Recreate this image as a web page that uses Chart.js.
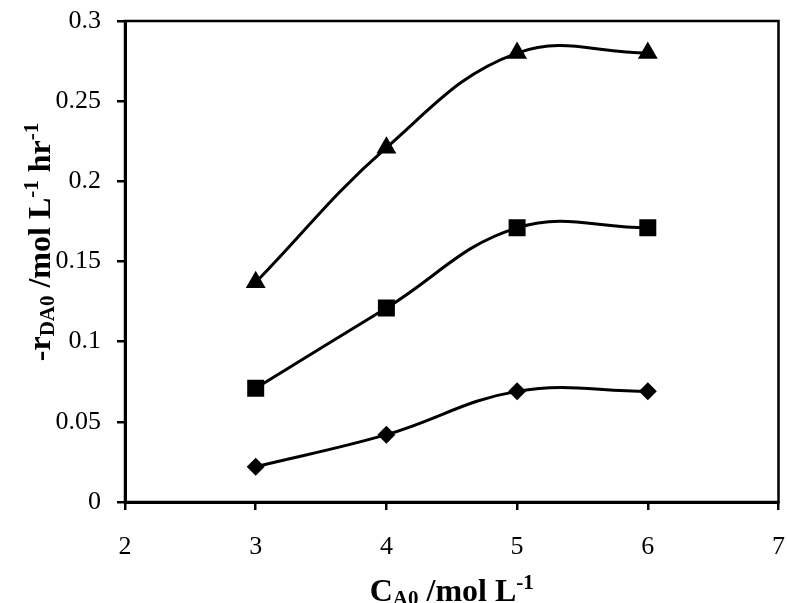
<!DOCTYPE html>
<html><head><meta charset="utf-8">
<script src="https://cdn.jsdelivr.net/npm/chart.js@4/dist/chart.umd.min.js"></script>
<style>html,body{margin:0;padding:0;background:#fff}#wrap{position:relative;width:787px;height:603px}</style>
</head><body><div id="wrap"><canvas id="c" width="787" height="603"></canvas></div>
<script>
const xValues = [3, 4, 5, 6];
const diamondSeries = [0.022, 0.042, 0.069, 0.069];
const squareSeries = [0.071, 0.121, 0.171, 0.171];
const triangleSeries = [0.137, 0.221, 0.28, 0.28];
const xTicks = [2, 3, 4, 5, 6, 7];
const yTicks = [0, 0.05, 0.1, 0.15, 0.2, 0.25, 0.3];
const xTitle = [{t:'C'}, {t:'A0', sub:true}, {t:' /mol L'}, {t:'-1', sup:true}];
const yTitle = [{t:'-r'}, {t:'DA0', sub:true}, {t:' /mol L'}, {t:'-1', sup:true}, {t:' hr'}, {t:'-1', sup:true}];

const FONT = '"Liberation Serif", "Times New Roman", serif';

function pts(ys){ return xValues.map((x,i)=>({x:x, y:ys[i]})); }

function ds(ys, style, r){
  return {data: pts(ys), borderColor:'#000', borderWidth:3, tension:0.4, fill:false,
    pointStyle: style, pointRadius: r, pointHoverRadius: r, pointBackgroundColor:'#000',
    pointBorderColor:'#000', pointBorderWidth:0};
}

function drawRich(ctx, parts, x, y, size){
  const mainF = 'bold ' + size + 'px ' + FONT;
  const smallF = 'bold ' + Math.round(size*0.66) + 'px ' + FONT;
  let total = 0;
  parts.forEach(p=>{ ctx.font = (p.sub||p.sup)?smallF:mainF; p.w = ctx.measureText(p.t).width; total += p.w; });
  let cx = x - total/2;
  ctx.textBaseline = 'alphabetic';
  ctx.textAlign = 'left';
  ctx.fillStyle = '#000';
  parts.forEach(p=>{
    ctx.font = (p.sub||p.sup)?smallF:mainF;
    const dy = p.sub ? 4 : (p.sup ? -12 : 0);
    ctx.fillText(p.t, cx, y+dy);
    cx += p.w;
  });
}

const extras = {
  id:'extras',
  afterDraw(chart){
    const ctx = chart.ctx, a = chart.chartArea;
    ctx.save();
    ctx.strokeStyle = '#000';
    ctx.lineWidth = 2.5;
    ctx.strokeRect(a.left, a.top, a.right - a.left, a.bottom - a.top);
    drawRich(ctx, xTitle, (a.left + a.right)/2, 601, 32);
    ctx.translate(50, 242);
    ctx.rotate(-Math.PI/2);
    drawRich(ctx, yTitle, 0, 0, 32);
    ctx.restore();
  }
};

function noPad(s){ s.paddingLeft = 0; s.paddingRight = 0; s.paddingTop = 0; s.paddingBottom = 0; }

new Chart(document.getElementById('c'), {
  type: 'line',
  data: { datasets: [ ds(triangleSeries, 'triangle', 11.5), ds(squareSeries, 'rect', 12), ds(diamondSeries, 'rectRot', 9) ] },
  options: {
    responsive: false, animation: false, devicePixelRatio: 1,
    layout: { autoPadding: false, padding: { top: 21, right: 8.5, left: 0, bottom: 0 } },
    plugins: { legend: {display:false}, tooltip: {enabled:false} },
    scales: {
      x: {
        type: 'linear', min: 2, max: 7,
        afterBuildTicks: s => { s.ticks = xTicks.map(v=>({value:v})); },
        afterFit: s => { s.height = 101; noPad(s); },
        ticks: { color:'#000', font:{family: FONT, size: 26}, padding: 22, maxRotation:0, callback: v => String(v) },
        grid: { drawOnChartArea:false, drawTicks:true, tickLength:8, color:'#000', lineWidth:2.5 },
        border: { display:true, color:'#000', width:3 }
      },
      y: {
        type: 'linear', min: 0, max: 0.3,
        afterBuildTicks: s => { s.ticks = yTicks.map(v=>({value:v})); },
        afterFit: s => { s.width = 125; noPad(s); },
        ticks: { color:'#000', font:{family: FONT, size: 26}, padding: 16, callback: v => String(v) },
        grid: { drawOnChartArea:false, drawTicks:true, tickLength:8, color:'#000', lineWidth:2.5 },
        border: { display:true, color:'#000', width:3 }
      }
    }
  },
  plugins: [extras]
});
</script>
</body></html>
